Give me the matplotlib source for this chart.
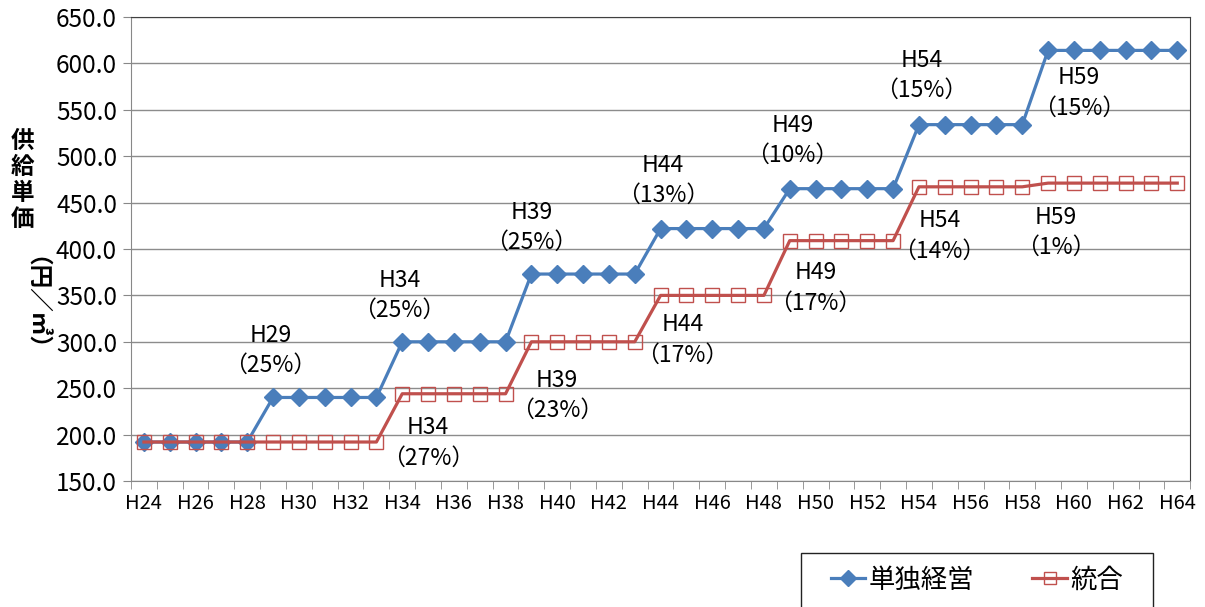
import matplotlib
matplotlib.use("Agg")
import matplotlib.pyplot as plt
from matplotlib.patches import Rectangle
from matplotlib.ticker import MultipleLocator, FixedLocator, FormatStrFormatter

plt.rcParams["font.family"] = ["Noto Sans CJK JP", "DejaVu Sans"]

# 年度 H24..H64
nendo = [f"H{n}" for n in range(24, 65)]

# 供給単価（円／㎥）
tandoku = ([192.0] * 5 + [240.0] * 5 + [300.0] * 5 + [373.0] * 5 + [422.0] * 5
           + [465.0] * 5 + [534.0] * 5 + [614.0] * 6)
tougou = ([192.0] * 10 + [244.0] * 5 + [300.0] * 5 + [350.0] * 5
          + [409.0] * 5 + [467.0] * 5 + [471.0] * 6)

# 値上げ注記 (ラベル, 率)
chuki_tandoku = [("H29", "25%"), ("H34", "25%"), ("H39", "25%"), ("H44", "13%"),
                 ("H49", "10%"), ("H54", "15%"), ("H59", "15%")]
chuki_tougou = [("H34", "27%"), ("H39", "23%"), ("H44", "17%"), ("H49", "17%"),
                ("H54", "14%"), ("H59", "1%")]

# 注記の置き場所 (データ座標)
pos_tandoku = [(4.9, 291), (9.9, 350), (15.0, 423), (20.1, 474),
               (25.1, 517), (30.1, 587), (36.2, 568)]
pos_tougou = [(11.0, 191), (16.0, 242), (20.85, 302), (26.0, 358),
              (30.8, 414), (35.3, 418)]

BLUE = "#4A7EBB"
RED = "#C0504D"

fig = plt.figure(figsize=(12.05, 6.07), dpi=100)
ax = fig.add_axes([0.1087, 0.2076, 0.879, 0.7644])

x = list(range(len(nendo)))
ax.plot(x, tandoku, color=BLUE, lw=2.3, marker="D", ms=9,
        mfc=BLUE, mec=BLUE, label="単独経営", zorder=3)
ax.plot(x, tougou, color=RED, lw=2.3, marker="s", ms=10.5,
        mfc="none", mec=RED, mew=1.0, label="統合", zorder=4)

for (lbl, pct), (px, py) in zip(chuki_tandoku, pos_tandoku):
    ax.text(px, py, f"{lbl}\n（{pct}）", ha="center", va="center",
            fontsize=16.5, linespacing=1.4, zorder=5)
for (lbl, pct), (px, py) in zip(chuki_tougou, pos_tougou):
    ax.text(px, py, f"{lbl}\n（{pct}）", ha="center", va="center",
            fontsize=16.5, linespacing=1.4, zorder=5)

ax.set_xlim(-0.5, len(nendo) - 0.5)
ax.set_ylim(150, 650)
ax.yaxis.set_major_locator(MultipleLocator(50))
ax.yaxis.set_major_formatter(FormatStrFormatter("%.1f"))
ax.set_xticks(x[::2])
ax.set_xticklabels(nendo[::2])
ax.xaxis.set_minor_locator(FixedLocator([i - 0.5 for i in range(len(nendo) + 1)]))
ax.tick_params(axis="x", which="major", length=0, labelsize=14.5, pad=9)
ax.tick_params(axis="x", which="minor", length=6, color="#888888")
ax.tick_params(axis="y", length=6, color="#888888", labelsize=17.5, pad=4)

ax.grid(axis="y", color="#8c8c8c", lw=1.0)
ax.set_axisbelow(True)
for s in ("left", "bottom"):
    ax.spines[s].set_color("#888888")
for s in ("top", "right"):
    ax.spines[s].set_color("#404040")

# 縦書きの軸ラベル
fig.text(0.019, 0.703, "供\n給\n単\n価", ha="center", va="center",
         fontsize=17, fontweight="bold", linespacing=1.1)
fig.text(0.019, 0.481, "（円／㎥）", ha="center", va="center",
         fontsize=17, fontweight="bold", rotation=-90)

# 凡例
fig.patches.append(Rectangle((801 / 1205, -0.02), 352 / 1205, 1 - 553 / 607 + 0.02,
                             transform=fig.transFigure, fill=False,
                             edgecolor="#222222", lw=1.0))
leg = fig.legend(loc="center", bbox_to_anchor=(977 / 1205, 1 - 580 / 607),
                 ncol=2, fontsize=19, frameon=False, handlelength=1.3,
                 handletextpad=0.15, columnspacing=2.2)
for h in leg.legend_handles:
    h.set_markersize(8)

fig.savefig("out.png", dpi=100)
